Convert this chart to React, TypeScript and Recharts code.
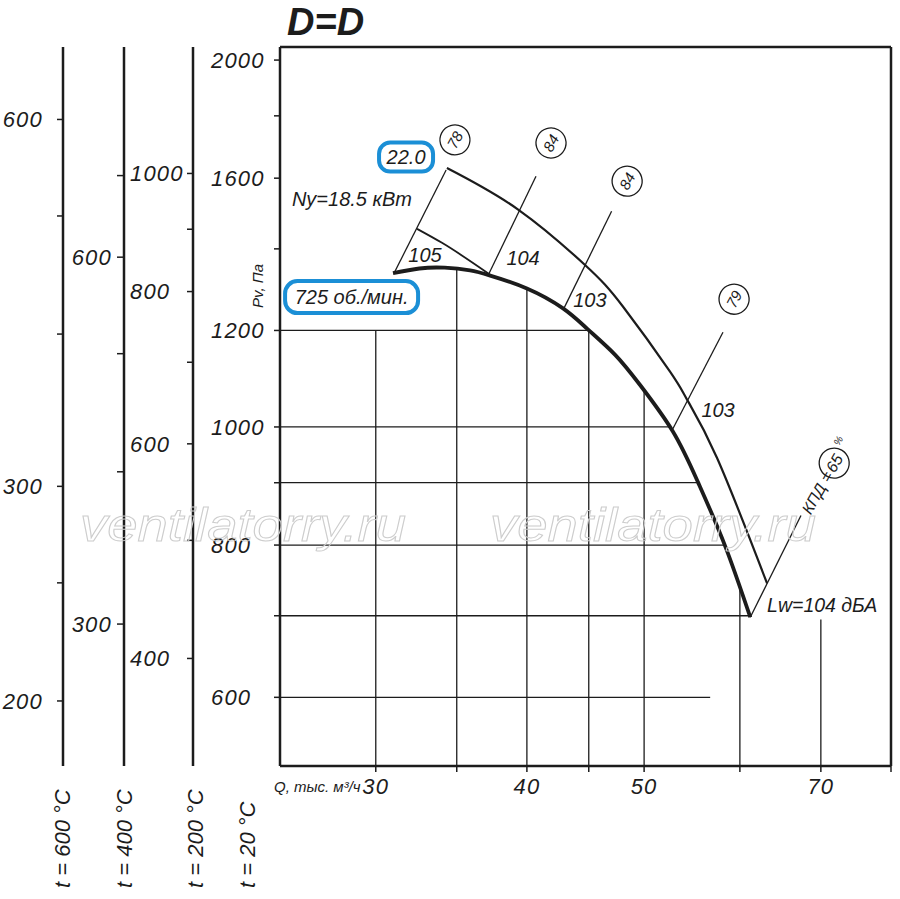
import React from 'react';
import { ComposedChart, Line, XAxis, YAxis, ReferenceLine, ReferenceDot } from 'recharts';

// ---------- axes ----------
const Q_DOMAIN: [number, number] = [25, 80];
const P_DOMAIN: [number, number] = [527, 2050];
const Q_TICKS = [30, 35, 40, 45, 50, 60, 70, 80];
const Q_LABELS = [30, 40, 50, 70];
const P_TICKS = [600, 700, 800, 900, 1000, 1200, 1400, 1600, 1800, 2000];
const P_LABELS = [600, 800, 1000, 1200, 1600, 2000];
const T200_TICKS = [400, 500, 600, 700, 800, 900, 1000];
const T200_LABELS = [400, 600, 800, 1000];
const T400_TICKS = [300, 400, 500, 600, 700];
const T400_LABELS = [300, 600];
const T600_TICKS = [200, 250, 300, 400, 500, 600];
const T600_LABELS = [200, 300, 600];
const T_BASE = 20;

// ---------- curves ----------
const MAIN_Q = [31.0, 32.6, 34.2, 35.9, 37.3, 40.0, 42.85, 44.9, 47.32, 49.6, 52.8, 55.4, 58.3, 61.2];
const MAIN_P = [1337, 1349, 1351, 1344, 1331, 1299, 1251, 1203, 1146, 1083, 992, 901, 800, 698];
const UPPER_Q = [34.35, 39.34, 44.68, 48.04, 52.53, 54.26, 57.45, 63.19];
const UPPER_P = [1631, 1508, 1358, 1255, 1110, 1053, 943, 744];
const SMALL_Q = [32.45, 34.03, 37.3];
const SMALL_P = [1454, 1416, 1333];

// ---------- efficiency lines ----------
const EFF_Q_LOW = [31.06, 37.2, 42.85, 52.8, 61.2];
const EFF_P_LOW = [1337, 1335, 1247, 996, 698];
const EFF_Q_HIGH = [34.3, 40.7, 47.0, 58.1, 67.4];
const EFF_P_HIGH = [1625, 1606, 1503, 1196, 846];
const TAG_TEXT = ['78', '84', '84', '79'];
const TAG_Q = [34.88, 41.88, 48.41, 59.34];
const TAG_P = [1720, 1710, 1591, 1273];
const KPD_TEXT = '65';
const KPD_Q = 71.8;
const KPD_P = 934;

// ---------- noise labels ----------
const NOISE_TEXT = ['105', '104', '103', '103'];
const NOISE_Q = [32.95, 39.71, 45.1, 57.56];
const NOISE_P = [1384, 1376, 1271, 1032];

// ---------- partial grid ----------
const VGRID_Q = [30, 35, 40, 45, 50, 60, 70];
const VGRID_TOP = [1200, 1348, 1299, 1203, 1075, 740, 695];
const HGRID_P = [1200, 1000, 900, 800, 700, 600];
const HGRID_END = [45, 52.6, 55.4, 58.3, 61.2, 56.7];

// ---------- text annotations ----------
const POWER_TEXT = '22.0';
const POWER_Q = 31.78;
const POWER_P = 1665;
const SPEED_TEXT = '725 об./мин.';
const SPEED_Q = 28.65;
const SPEED_P = 1278;
const NY_TEXT = 'Ny=18.5 кВт';
const NY_Q = 28.67;
const NY_P = 1538;
const LW_TEXT = 'Lw=104 дБА';
const LW_Q = 63.19;
const LW_P = 714;
const TITLE = 'D=D';
const WATERMARK = 'ventilatorry.ru';

const INK = '#1c1c1c';
const BLUE = '#1b8fd6';
const FONT = "'Liberation Sans', Arial, sans-serif";

const pts = (qs: number[], ps: number[]) => qs.map((q, i) => ({ q, p: ps[i] }));
const tDomain = (t: number): [number, number] => [
  (P_DOMAIN[0] * (273 + T_BASE)) / (273 + t),
  (P_DOMAIN[1] * (273 + T_BASE)) / (273 + t),
];

const tickFont: React.CSSProperties = {
  fontFamily: FONT,
  fontStyle: 'italic',
  fontSize: 22,
  letterSpacing: 1.2,
  fill: INK,
};
const textFont: React.CSSProperties = {
  fontFamily: FONT,
  fontStyle: 'italic',
  fontSize: 20,
  fill: INK,
};

const yTick = (labels: number[], dx: number, anchor: 'start' | 'end') => (props: any) => {
  const { x, y, payload } = props;
  const v = Math.round(payload.value);
  if (!labels.includes(v)) return <g />;
  return (
    <text x={x + dx} y={y} dy="0.36em" textAnchor={anchor} style={tickFont}>
      {v}
    </text>
  );
};

const xTick = (props: any) => {
  const { x, y, payload } = props;
  const v = Math.round(payload.value);
  if (!Q_LABELS.includes(v)) return <g />;
  return (
    <text x={x} y={y + 20} textAnchor="middle" style={tickFont}>
      {v}
    </text>
  );
};

const tLabel = (t: number, dx: number) => (props: any) => {
  const vb = props.viewBox || {};
  const lineX = (vb.x || 0) + (vb.width || 0);
  return (
    <text
      transform={`translate(${lineX + dx},888) rotate(-90)`}
      textAnchor="start"
      style={{ fontFamily: FONT, fontStyle: 'italic', fontSize: 22, fill: INK }}
    >
      {`t = ${t} °C`}
    </text>
  );
};

const mainLabel = (props: any) => {
  const vb = props.viewBox || {};
  const lineX = (vb.x || 0) + (vb.width || 0);
  return (
    <g>
      <text
        transform={`translate(${lineX - 25},888) rotate(-90)`}
        textAnchor="start"
        style={{ fontFamily: FONT, fontStyle: 'italic', fontSize: 22, fill: INK }}
      >
        {`t = ${T_BASE} °C`}
      </text>
      <text
        transform={`translate(${lineX - 17},286) rotate(-90)`}
        textAnchor="middle"
        style={{ fontFamily: FONT, fontStyle: 'italic', fontSize: 15, fill: INK }}
      >
        Pv, Па
      </text>
    </g>
  );
};

const xLabel = (props: any) => {
  const vb = props.viewBox || {};
  return (
    <text
      x={(vb.x || 280) - 6}
      y={(vb.y || 766) + 26}
      textAnchor="start"
      style={{ fontFamily: FONT, fontStyle: 'italic', fontSize: 15, fill: INK }}
    >
      Q, тыс. м³/ч
    </text>
  );
};

const tagShape = (text: string) => (props: any) => (
  <g transform={`translate(${props.cx},${props.cy}) rotate(-62)`}>
    <circle r={15} fill="#fff" stroke={INK} strokeWidth={1.3} />
    <text x={0} y={0} dy="0.36em" textAnchor="middle" style={{ ...textFont, fontSize: 15 }}>
      {text}
    </text>
  </g>
);

const kpdShape = (props: any) => (
  <g transform={`translate(${props.cx},${props.cy}) rotate(-60)`}>
    <text x={-11} y={0} dy="0.36em" textAnchor="end" style={{ ...textFont, fontSize: 16 }}>
      КПД =
    </text>
    <circle r={15} fill="none" stroke={INK} strokeWidth={1.3} />
    <text x={0} y={0} dy="0.36em" textAnchor="middle" style={{ ...textFont, fontSize: 16 }}>
      {KPD_TEXT}
    </text>
    <text x={17} y={-8} dy="0.36em" textAnchor="start" style={{ ...textFont, fontSize: 10 }}>
      %
    </text>
  </g>
);

const textShape = (text: string, anchor: 'start' | 'middle' | 'end', size: number) => (props: any) => (
  <text x={props.cx} y={props.cy} dy="0.36em" textAnchor={anchor} style={{ ...textFont, fontSize: size }}>
    {text}
  </text>
);

const boxShape = (text: string, w: number, h: number) => (props: any) => (
  <g>
    <rect
      x={props.cx - w / 2}
      y={props.cy - h / 2}
      width={w}
      height={h}
      rx={h / 2.6}
      ry={h / 2.6}
      fill="none"
      stroke={BLUE}
      strokeWidth={4}
    />
    <text x={props.cx} y={props.cy} dy="0.36em" textAnchor="middle" style={textFont}>
      {text}
    </text>
  </g>
);

const axisLineStyle = { stroke: INK, strokeWidth: 2.5 };
const tickLineStyle = { stroke: INK, strokeWidth: 1.5 };

export default function App() {
  return (
    <div style={{ position: 'absolute', left: 0, top: 0, width: 900, height: 899, background: '#fff' }}>
      <ComposedChart width={900} height={899} margin={{ top: 47, right: 9, bottom: 103, left: 0 }}>
        <XAxis
          dataKey="q"
          type="number"
          scale="log"
          domain={Q_DOMAIN}
          allowDataOverflow
          ticks={Q_TICKS}
          interval={0}
          tick={xTick}
          tickSize={6}
          tickLine={tickLineStyle}
          axisLine={axisLineStyle}
          height={30}
          label={xLabel}
        />
        <YAxis
          yAxisId="main"
          type="number"
          scale="log"
          domain={P_DOMAIN}
          allowDataOverflow
          ticks={P_TICKS}
          interval={0}
          width={87}
          tickSize={6}
          tick={yTick(P_LABELS, -61, 'start')}
          tickLine={tickLineStyle}
          axisLine={axisLineStyle}
          label={mainLabel}
        />
        <YAxis
          yAxisId="t200"
          type="number"
          scale="log"
          domain={tDomain(200)}
          allowDataOverflow
          ticks={T200_TICKS}
          interval={0}
          width={69}
          tickSize={6}
          tick={yTick(T200_LABELS, -55, 'start')}
          tickLine={tickLineStyle}
          axisLine={axisLineStyle}
          label={tLabel(200, 10)}
        />
        <YAxis
          yAxisId="t400"
          type="number"
          scale="log"
          domain={tDomain(400)}
          allowDataOverflow
          ticks={T400_TICKS}
          interval={0}
          width={61}
          tickSize={7}
          tick={yTick(T400_LABELS, -3, 'end')}
          tickLine={tickLineStyle}
          axisLine={axisLineStyle}
          label={tLabel(400, 8)}
        />
        <YAxis
          yAxisId="t600"
          type="number"
          scale="log"
          domain={tDomain(600)}
          allowDataOverflow
          ticks={T600_TICKS}
          interval={0}
          width={63}
          tickSize={6}
          tick={yTick(T600_LABELS, -12, 'end')}
          tickLine={tickLineStyle}
          axisLine={axisLineStyle}
          label={tLabel(600, 7)}
        />

        {/* frame */}
        <ReferenceLine yAxisId="main" y={P_DOMAIN[1]} stroke={INK} strokeWidth={2.5} ifOverflow="visible" />
        <ReferenceLine yAxisId="main" x={Q_DOMAIN[1]} stroke={INK} strokeWidth={2.5} ifOverflow="visible" />

        {/* partial grid */}
        {VGRID_Q.map((q, i) => (
          <ReferenceLine
            key={`v${i}`}
            yAxisId="main"
            segment={[
              { x: q, y: VGRID_TOP[i] },
              { x: q, y: P_DOMAIN[0] },
            ]}
            stroke={INK}
            strokeWidth={1.3}
            ifOverflow="visible"
          />
        ))}
        {HGRID_P.map((p, i) => (
          <ReferenceLine
            key={`h${i}`}
            yAxisId="main"
            segment={[
              { x: Q_DOMAIN[0], y: p },
              { x: HGRID_END[i], y: p },
            ]}
            stroke={INK}
            strokeWidth={1.3}
            ifOverflow="visible"
          />
        ))}

        {/* efficiency lines */}
        {EFF_Q_LOW.map((q, i) => (
          <Line
            key={`e${i}`}
            yAxisId="main"
            data={pts([q, EFF_Q_HIGH[i]], [EFF_P_LOW[i], EFF_P_HIGH[i]])}
            dataKey="p"
            type="linear"
            stroke={INK}
            strokeWidth={1.3}
            dot={false}
            activeDot={false}
            isAnimationActive={false}
          />
        ))}

        {/* curves */}
        <Line
          yAxisId="main"
          data={pts(SMALL_Q, SMALL_P)}
          dataKey="p"
          type="monotone"
          stroke={INK}
          strokeWidth={1.8}
          dot={false}
          activeDot={false}
          isAnimationActive={false}
        />
        <Line
          yAxisId="main"
          data={pts(UPPER_Q, UPPER_P)}
          dataKey="p"
          type="natural"
          stroke={INK}
          strokeWidth={2.2}
          dot={false}
          activeDot={false}
          isAnimationActive={false}
        />
        <Line
          yAxisId="main"
          data={pts(MAIN_Q, MAIN_P)}
          dataKey="p"
          type="natural"
          stroke={INK}
          strokeWidth={3.8}
          dot={false}
          activeDot={false}
          isAnimationActive={false}
        />

        {/* tags */}
        {TAG_TEXT.map((t, i) => (
          <ReferenceDot key={`t${i}`} yAxisId="main" x={TAG_Q[i]} y={TAG_P[i]} ifOverflow="visible" shape={tagShape(t)} />
        ))}
        <ReferenceDot yAxisId="main" x={KPD_Q} y={KPD_P} ifOverflow="visible" shape={kpdShape} />

        {NOISE_TEXT.map((t, i) => (
          <ReferenceDot
            key={`n${i}`}
            yAxisId="main"
            x={NOISE_Q[i]}
            y={NOISE_P[i]}
            ifOverflow="visible"
            shape={textShape(t, 'middle', 20)}
          />
        ))}

        <ReferenceDot yAxisId="main" x={NY_Q} y={NY_P} ifOverflow="visible" shape={textShape(NY_TEXT, 'middle', 20)} />
        <ReferenceDot yAxisId="main" x={LW_Q} y={LW_P} ifOverflow="visible" shape={textShape(LW_TEXT, 'start', 19.5)} />
        <ReferenceDot yAxisId="main" x={POWER_Q} y={POWER_P} ifOverflow="visible" shape={boxShape(POWER_TEXT, 54, 29)} />
        <ReferenceDot yAxisId="main" x={SPEED_Q} y={SPEED_P} ifOverflow="visible" shape={boxShape(SPEED_TEXT, 133, 32)} />
      </ComposedChart>

      <svg
        width={900}
        height={899}
        style={{ position: 'absolute', left: 0, top: 0, pointerEvents: 'none' }}
      >
        <text
          x={287}
          y={35}
          style={{ fontFamily: FONT, fontStyle: 'italic', fontWeight: 700, fontSize: 38, fill: INK }}
        >
          {TITLE}
        </text>
        {[80, 490].map((x) => (
          <text
            key={x}
            x={x}
            y={541}
            textLength={326}
            lengthAdjust="spacingAndGlyphs"
            style={{
              fontFamily: FONT,
              fontStyle: 'italic',
              fontSize: 47,
              fill: 'none',
              stroke: '#cdcdcd',
              strokeWidth: 1,
            }}
          >
            {WATERMARK}
          </text>
        ))}
      </svg>
    </div>
  );
}
